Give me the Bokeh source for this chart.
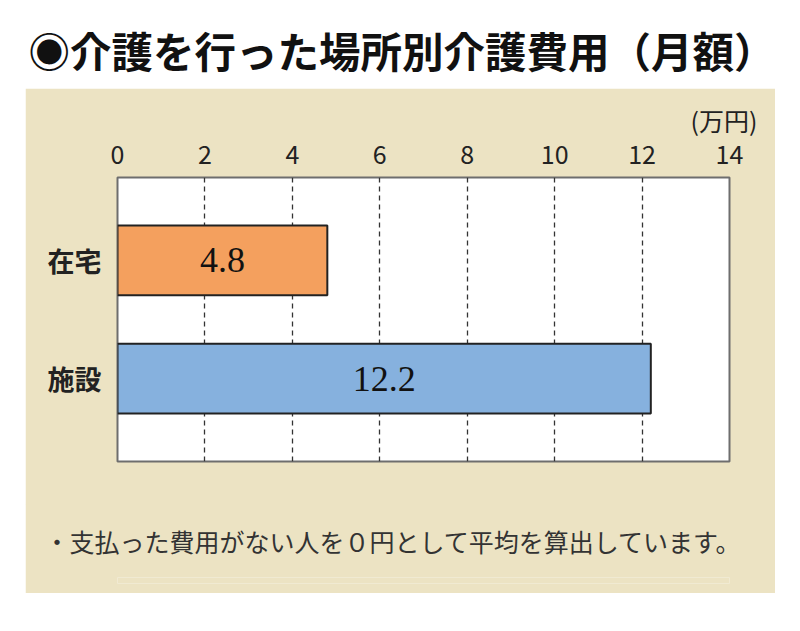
from bokeh.plotting import figure
from bokeh.models import (ColumnDataSource, FactorRange, Range1d, FixedTicker,
                          Title, LabelSet)
from bokeh.layouts import column
from bokeh.embed import file_html
from bokeh.resources import INLINE

# ---- data ----
categories = ["在宅", "施設"]
values = [4.8, 12.2]
bar_colors = ["#F4A05E", "#86B1DE"]
value_labels = ["4.8", "12.2"]
x_ticks = [0, 2, 4, 6, 8, 10, 12, 14]
title_text = "◉介護を行った場所別介護費用（月額）"
unit_text = "(万円)"
note_text = "・支払った費用がない人を０円として平均を算出しています。"

JP = "Noto Sans CJK JP"
BEIGE = "#ECE3C3"
PW = 750       # beige panel width
PL = 25        # beige panel left offset
BL, BR = 92, 46  # left / right borders of the chart (shared in the column)


def strip(w, h, bg, bottom=0):
    f = figure(width=w, height=h, output_backend="svg", toolbar_location=None,
               x_axis_type=None, y_axis_type=None,
               min_border_left=BL, min_border_right=BR,
               min_border_top=0, min_border_bottom=bottom)
    f.grid.visible = False
    f.outline_line_color = None
    f.background_fill_color = bg
    f.border_fill_color = bg
    return f


# ---- title strip (white) ----
ft = strip(784, 76, "white")
ft.margin = (12, 0, 0, 0)
ft.title.text = title_text
ft.title.align = "left"
ft.title.offset = 28 - BL
ft.title.text_font = JP
ft.title.text_font_size = "41.5px"
ft.title.text_font_style = "bold"
ft.title.text_color = "#111111"

# ---- main chart (beige panel) ----
p = figure(width=PW, height=417, output_backend="svg", toolbar_location=None,
           x_range=Range1d(0, 14),
           y_range=FactorRange(factors=categories[::-1], range_padding=0.2,
                               range_padding_units="absolute"),
           x_axis_location="above",
           min_border_left=BL, min_border_right=BR,
           min_border_top=89, min_border_bottom=44)
p.margin = (0, 0, 0, PL)
p.border_fill_color = BEIGE
p.background_fill_color = "white"
p.outline_line_color = "#6e6e6e"
p.outline_line_width = 2

p.xaxis.ticker = FixedTicker(ticks=x_ticks)
p.xaxis.axis_line_color = None
p.xaxis.major_tick_line_color = None
p.xaxis.minor_tick_line_color = None
p.xaxis.major_label_text_font = JP
p.xaxis.major_label_text_font_size = "25px"
p.xaxis.major_label_text_color = "#222222"
p.xaxis.major_label_standoff = 8

p.yaxis.axis_line_color = None
p.yaxis.major_tick_line_color = None
p.yaxis.major_label_text_font = JP
p.yaxis.major_label_text_font_size = "27px"
p.yaxis.major_label_text_font_style = "bold"
p.yaxis.major_label_text_color = "#222222"
p.yaxis.major_label_standoff = 10

p.ygrid.grid_line_color = None
p.xgrid.ticker = FixedTicker(ticks=x_ticks)
p.xgrid.grid_line_color = "#333333"
p.xgrid.grid_line_dash = "5 4"
p.xgrid.grid_line_width = 1.3

src = ColumnDataSource(dict(cat=categories, val=values, color=bar_colors,
                            lab=value_labels,
                            mid=[v / 2 for v in values]))

p.hbar(y="cat", right="val", left=0, height=0.59, source=src,
       fill_color="color", line_color="#222222", line_width=2)

p.add_layout(LabelSet(x="mid", y="cat", text="lab", source=src,
                      text_align="center", text_baseline="middle",
                      text_font="Liberation Serif", text_font_size="36px",
                      text_color="#111111"))

p.add_layout(Title(text=unit_text, align="right", offset=-28, standoff=8,
                   text_font=JP, text_font_size="25px",
                   text_font_style="normal", text_color="#222222"), "above")

# ---- note strip (beige) ----
fn = strip(PW, 89, BEIGE, bottom=10)
fn.margin = (-1, 0, 0, PL)
fn.title.text = note_text
fn.title.align = "left"
fn.title.offset = -73
fn.title.standoff = 35
fn.title.vertical_align = "middle"
fn.title.text_font = JP
fn.title.text_font_size = "25px"
fn.title.text_font_style = "normal"
fn.title.text_color = "#333333"

layout = column(ft, p, fn, spacing=0)

open("out.html", "w").write(file_html(layout, INLINE))
